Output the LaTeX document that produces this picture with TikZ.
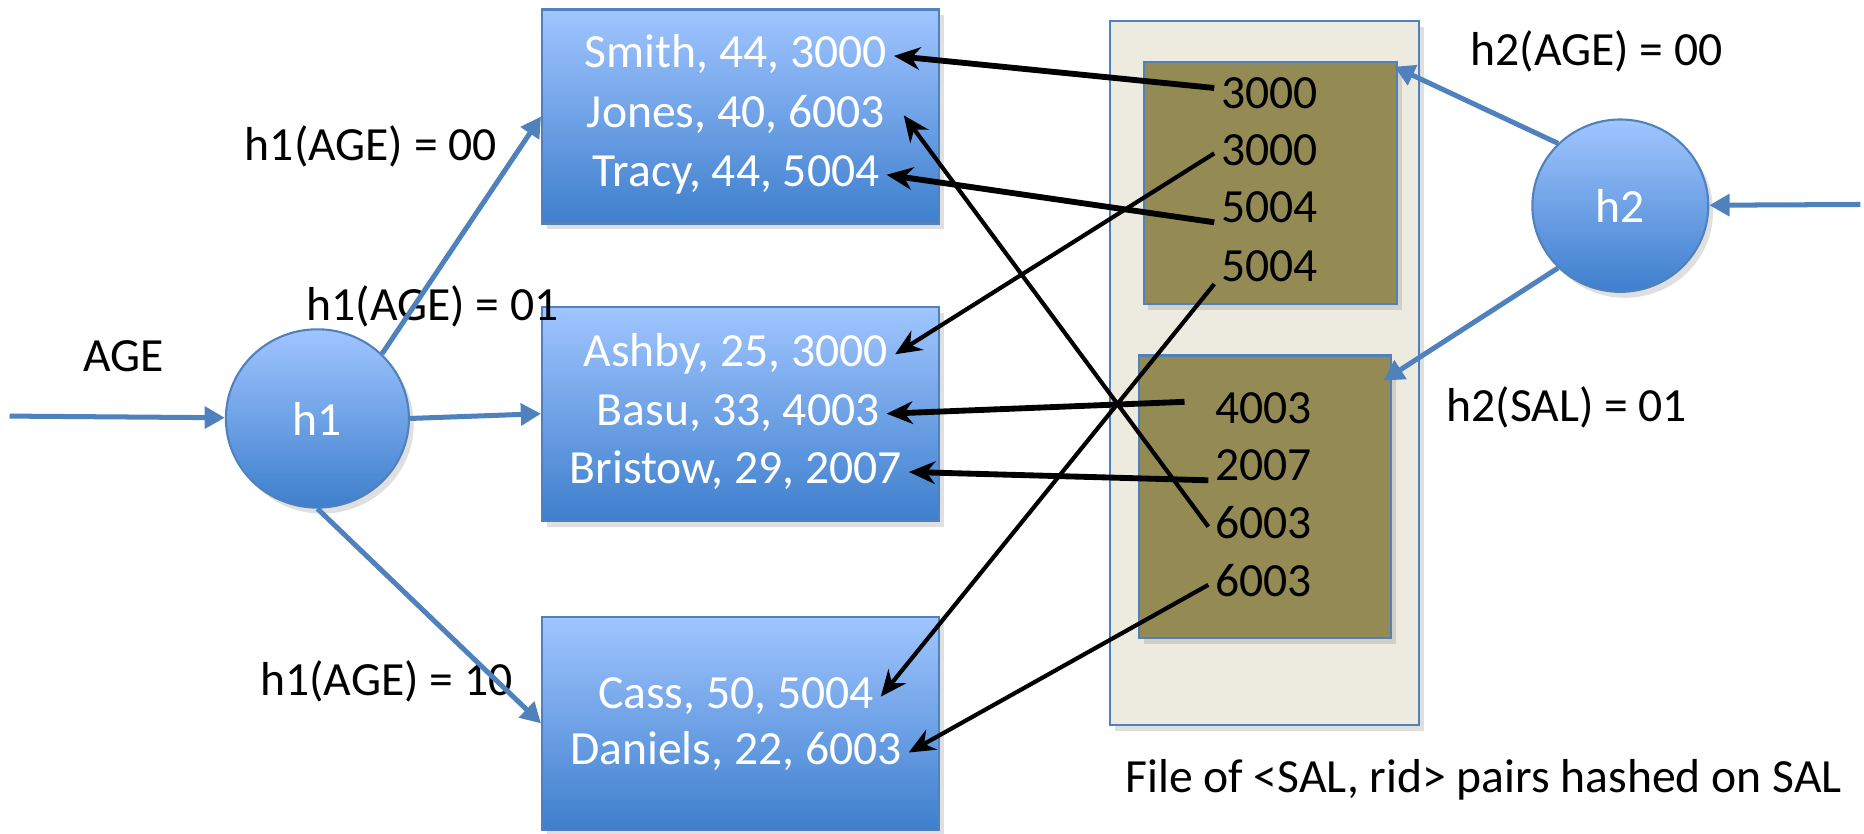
\documentclass[tikz,border=0pt]{standalone}
\usepackage{fontspec}
\setmainfont{Carlito}
\usepackage{tikz}
\usetikzlibrary{shapes.geometric,arrows.meta,shadows}

\definecolor{boxtop}{RGB}{160,197,255}
\definecolor{boxbot}{RGB}{62,127,205}
\definecolor{edgeblue}{RGB}{79,129,189}
\definecolor{filebg}{RGB}{237,235,224}
\definecolor{olivebk}{RGB}{148,138,84}

\begin{document}
\begin{tikzpicture}[
	font=\fontsize{11.4pt}{14pt}\selectfont,
	softshadow/.style={drop shadow={opacity=0.25,shadow xshift=0.4mm,shadow yshift=-0.5mm}},
	recbox/.style={draw=edgeblue, line width=0.5pt, top color=boxtop, bottom color=boxbot, minimum width=3.34cm, minimum height=1.8cm, inner sep=0pt, softshadow},
	filebox/.style={draw=edgeblue, line width=0.5pt, fill=filebg, inner sep=0pt, softshadow},
	bucket/.style={draw=edgeblue, line width=0.5pt, fill=olivebk, inner sep=0pt, softshadow},
	hashfn/.style={ellipse, draw=edgeblue, line width=0.5pt, top color=boxtop, bottom color=boxbot, text=white, inner sep=0pt, softshadow},
	rectext/.style={text=white, inner sep=1.5pt, text height=0.29cm, text depth=0.09cm},
	numtext/.style={text=black, inner sep=1.5pt, text height=0.29cm, text depth=0.09cm},
	bluearr/.style={draw=edgeblue, line width=1.2pt, -{Triangle[length=1.7mm,width=1.8mm]}},
	ptr/.style={line width=1.4pt, -{Stealth[length=2.2mm,width=1.9mm]}},
	ptrthin/.style={line width=1pt, -{Stealth[length=2.2mm,width=1.9mm]}}
	]
		\useasboundingbox (0,0) rectangle (15.68,-7.01);
		
		\node[filebox, minimum width=2.60cm, minimum height=5.92cm] (file) at (10.64,-3.14) {};
		\node[bucket, minimum width=2.13cm, minimum height=2.04cm] (bk1) at (10.685,-1.54) {};
		\node[bucket, minimum width=2.12cm, minimum height=2.38cm] (bk2) at (10.64,-4.18) {};
		
		\node[numtext] (n1) at (10.68,-0.81) {3000};
		\node[numtext] (n2) at (10.68,-1.29) {3000};
		\node[numtext] (n3) at (10.68,-1.77) {5004};
		\node[numtext] (n4) at (10.68,-2.27) {5004};
		\node[numtext] (m1) at (10.63,-3.46) {4003};
		\node[numtext] (m2) at (10.63,-3.94) {2007};
		\node[numtext] (m3) at (10.63,-4.43) {6003};
		\node[numtext] (m4) at (10.63,-4.92) {6003};
		
		
		\node[recbox] (bx1) at (6.23,-0.98) {};
		\node[recbox] (bx2) at (6.23,-3.48) {};
		\node[recbox, minimum height=1.79cm] (bx3) at (6.23,-6.085) {};
		
		\node[rectext] (smith) at (6.19,-0.47) {Smith, 44, 3000};
		\node[rectext] (jones) at (6.19,-0.97) {Jones, 40, 6003};
		\node[rectext] (tracy) at (6.19,-1.47) {Tracy, 44, 5004};
		\node[rectext] (ashby) at (6.19,-2.98) {Ashby, 25, 3000};
		\node[rectext] (basu) at (6.21,-3.48) {Basu, 33, 4003};
		\node[rectext] (bristow) at (6.19,-3.97) {Bristow, 29, 2007};
		\node[rectext] (cass) at (6.19,-5.86) {Cass, 50, 5004};
		\node[rectext] (daniels) at (6.19,-6.33) {Daniels, 22, 6003};
		
		\node[hashfn, minimum width=1.54cm, minimum height=1.50cm] (h1) at (2.67,-3.52) {h1};
		\node[hashfn, minimum width=1.48cm, minimum height=1.45cm] (h2) at (13.63,-1.73) {h2};
		
		
		\node (agelbl) at (1.04,-3.00) {AGE};
		\node (lbl00) at (3.12,-1.23) {h1(AGE) = 00};
		\node (lbl01) at (3.64,-2.58) {h1(AGE) = 01};
		\node (lbl10) at (3.25,-5.73) {h1(AGE) = 10};
		\node (lblh2a) at (13.43,-0.43) {h2(AGE) = 00};
		\node (lblh2s) at (13.18,-3.43) {h2(SAL) = 01};
		\node (filecap) at (12.48,-6.56) {File of <SAL, rid> pairs hashed on SAL};
		
		\coordinate (in1) at (0.08,-3.50);
		\coordinate (in2) at (15.65,-1.72);
		
		\draw[bluearr] (in1) -- (h1);
		\draw[bluearr] (h1.45) -- (bx1.west);
		\draw[bluearr] (h1.east) -- (bx2.west);
		\draw[bluearr] (h1.south) -- (bx3.west);
		\draw[bluearr] (in2) -- (h2);
		\draw[bluearr] (h2.135) -- ([xshift=-0.03cm,yshift=-0.05cm]bk1.north east);
		\draw[bluearr] (h2.225) -- ([xshift=-0.07cm,yshift=-0.22cm]bk2.north east);
		
		\draw[ptr] ([yshift=0.07cm]n1.west) -- (smith.east);
		\draw[ptrthin] (n2.west) -- (ashby.east);
		\draw[ptr] ([yshift=-0.1cm]n3.west) -- (tracy.east);
		\draw[ptrthin] ([yshift=-0.12cm]n4.west) -- (cass.east);
		\draw[ptr] ([xshift=-0.2cm,yshift=0.08cm]m1.west) -- (basu.east);
		\draw[ptr] ([yshift=-0.1cm]m2.west) -- (bristow.east);
		\draw[ptrthin] (m3.west) -- ([xshift=0.1cm]jones.east);
		\draw[ptrthin] (m4.west) -- (daniels.east);
		
\end{tikzpicture}
\end{document}
